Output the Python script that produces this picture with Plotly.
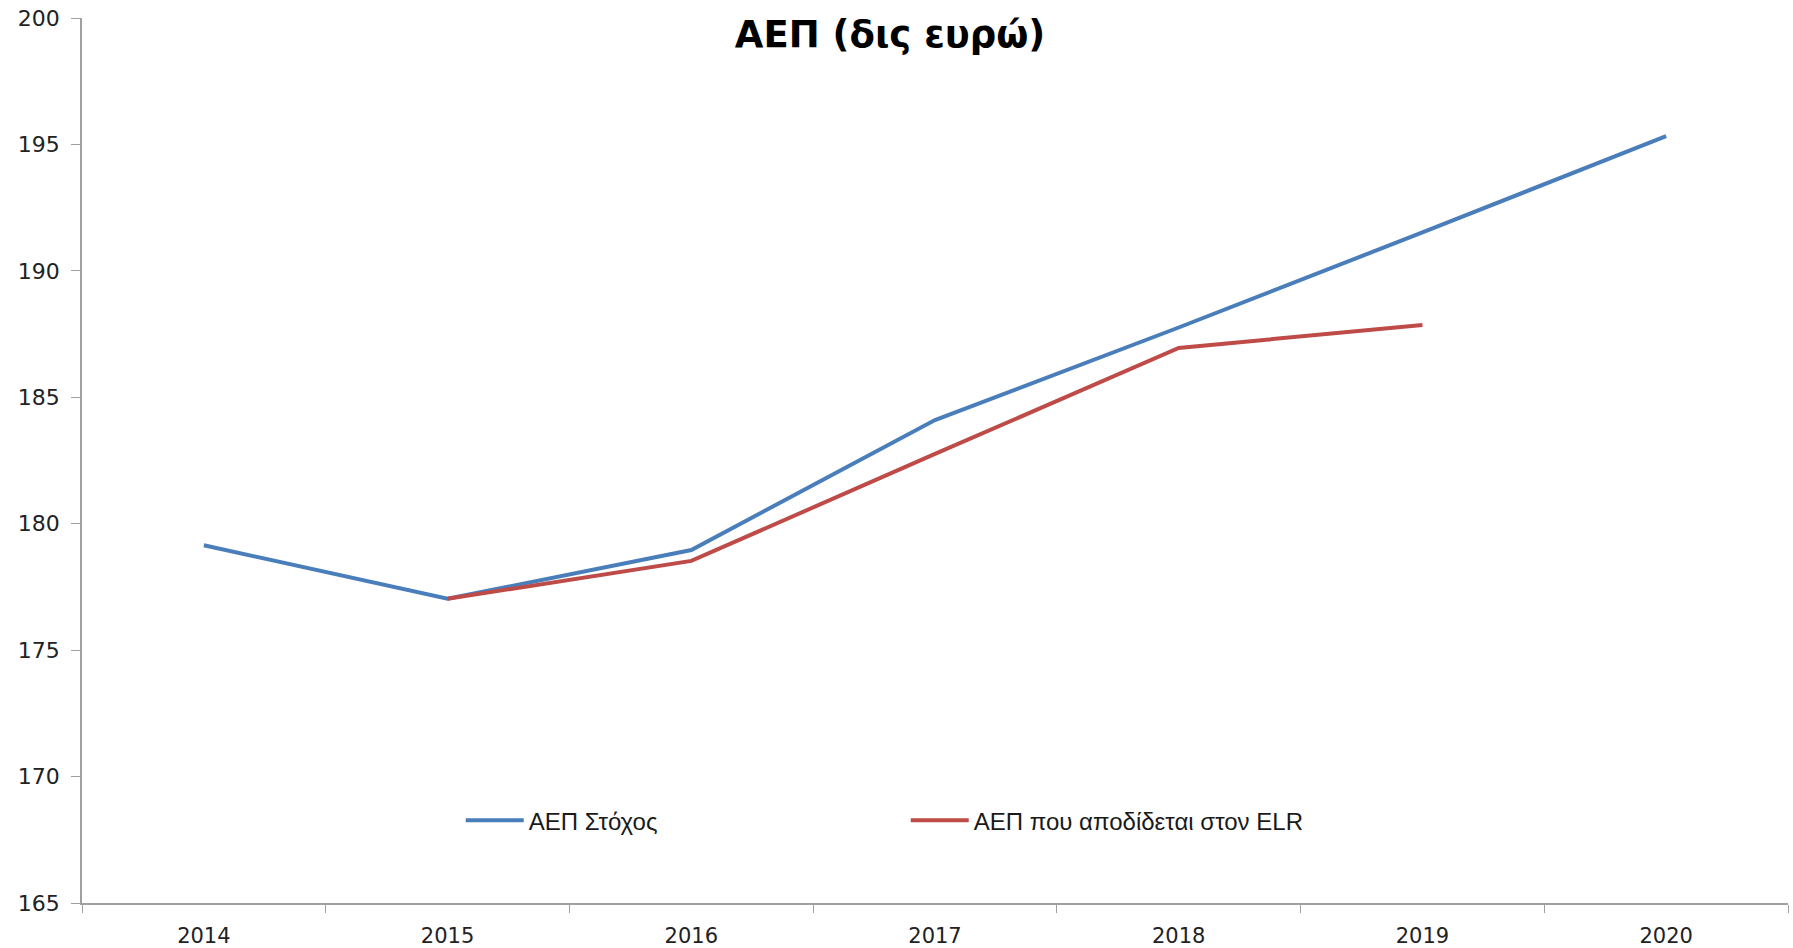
import plotly.graph_objects as go

years = ["2014", "2015", "2016", "2017", "2018", "2019", "2020"]
gdp_target = [179.15, 177.03, 178.96, 184.10, 187.76, 191.52, 195.33]
elr_years = ["2015", "2016", "2017", "2018", "2019"]
gdp_elr = [177.03, 178.53, 182.76, 186.95, 187.86]

series_names = ["ΑΕΠ Στόχος", "ΑΕΠ που αποδίδεται στον ELR"]
title_text = "ΑΕΠ (δις ευρώ)"

fig = go.Figure()
fig.add_trace(go.Scatter(x=years, y=gdp_target, mode="lines", name=series_names[0],
                         line=dict(color="#4A7EBB", width=4)))
fig.add_trace(go.Scatter(x=elr_years, y=gdp_elr, mode="lines", name=series_names[1],
                         line=dict(color="#BE4B48", width=4)))

axis_col = "#a0a0a0"
fig.update_layout(
    width=1793, height=948,
    margin=dict(l=82, r=5, t=18, b=45, autoexpand=False),
    paper_bgcolor="white", plot_bgcolor="white",
    title=dict(text="<b>" + title_text + "</b>", x=0.4964, xref="container", xanchor="center",
               y=1 - 34 / 948, yref="container", yanchor="middle",
               font=dict(family="DejaVu Sans", size=37, color="#000000")),
    legend=dict(orientation="h", x=0.222, y=0.093, xanchor="left", yanchor="middle",
                bgcolor="rgba(0,0,0,0)", itemwidth=58, entrywidth=372,
                font=dict(family="Liberation Sans", size=24, color="#1a1a1a")),
    xaxis=dict(type="category", categoryorder="array", categoryarray=years,
               range=[-0.5, 6.5], tickson="boundaries", ticks="outside", ticklen=8,
               tickcolor=axis_col, showline=True, linecolor=axis_col, linewidth=1.5,
               showgrid=False, zeroline=False, ticklabelstandoff=13, automargin=False,
               ticklabeloverflow="allow",
               tickfont=dict(family="DejaVu Sans", size=21, color="#222222")),
    yaxis=dict(range=[165, 200], dtick=5, tick0=165, ticks="outside", ticklen=9,
               tickcolor=axis_col, showline=True, linecolor=axis_col, linewidth=1.5,
               showgrid=False, zeroline=False, ticklabelstandoff=7, automargin=False,
               ticklabeloverflow="allow",
               tickfont=dict(family="DejaVu Sans", size=22, color="#222222")),
)

fig.write_html("out.html", config={"displayModeBar": False},
               post_script="document.body.style.margin='0';document.body.style.overflow='hidden';")
